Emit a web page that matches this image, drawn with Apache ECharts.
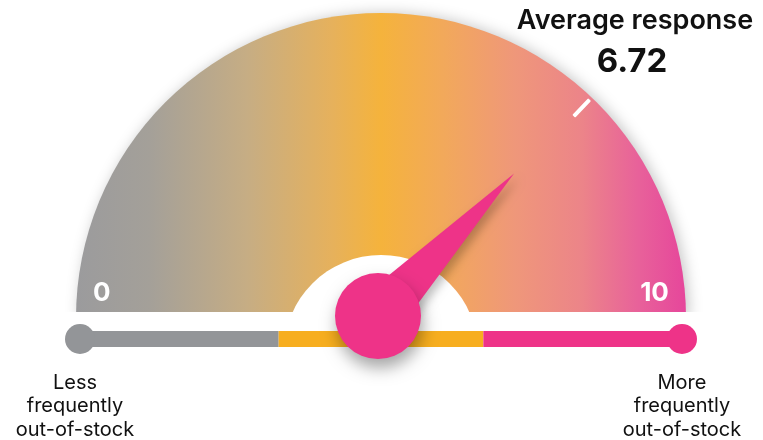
<!DOCTYPE html>
<html>
<head>
<meta charset="utf-8">
<script src="https://cdn.jsdelivr.net/npm/echarts@6/dist/echarts.min.js"></script>
<style>
  html, body { margin: 0; padding: 0; background: #fff; }
  #chart { width: 763px; height: 440px; }
</style>
</head>
<body>
<div id="chart"></div>
<script>
// Survey result shown on the dial
const seriesName = 'Average response';
const avgResponse = 6.72;

// Scale of the dial and the bar underneath
const scaleMin = 0;
const scaleMax = 10;
const scaleEnds = [0, 10];
const endLabels = ['Less\nfrequently\nout-of-stock', 'More\nfrequently\nout-of-stock'];

// Three bands of the bar, widths in scale units
const bandNames = ['low', 'middle', 'high'];
const bandWidths = [3.3, 3.4, 3.3];

// ---- styling ----
const PINK = '#ee3388';
const ORANGE = '#f7ae1f';
const GREY = '#939598';
const bandColors = [GREY, ORANGE, PINK];
const FONT = 'Inter, Roboto, sans-serif';

const DIAL_C = [381, 318];
const DIAL_R = 305;
const NEEDLE_C = [378, 316];
// sweep of the needle scale
const SWEEP_START = 217;
const SWEEP_END = -37;

const arcFill = new echarts.graphic.LinearGradient(DIAL_C[0] - DIAL_R, 0, DIAL_C[0] + DIAL_R, 0, [
  { offset: 0.00, color: '#9b9b9d' },
  { offset: 0.12, color: '#a4a099' },
  { offset: 0.28, color: '#c6ad84' },
  { offset: 0.42, color: '#e6b15c' },
  { offset: 0.50, color: '#f5b33c' },
  { offset: 0.60, color: '#f2a95a' },
  { offset: 0.72, color: '#ef977a' },
  { offset: 0.83, color: '#ec8489' },
  { offset: 0.92, color: '#e8629a' },
  { offset: 1.00, color: '#e6469b' }
], true);

const hidden = {
  axisLine: { show: false },
  axisTick: { show: false },
  splitLine: { show: false, length: 0 },
  axisLabel: { show: false },
  pointer: { show: false },
  anchor: { show: false },
  title: { show: false },
  detail: { show: false }
};

const chart = echarts.init(document.getElementById('chart'), null, { renderer: 'canvas' });

chart.setOption({
  animation: false,
  graphic: {
    elements: [
      // white strip between dial and bar
      { type: 'rect', z: 3, silent: true, shape: { x: 0, y: 312, width: 763, height: 20 }, style: { fill: '#fff' } },
      // white hub well
      { type: 'circle', z: 3, silent: true, shape: { cx: 381, cy: 352, r: 97 }, style: { fill: '#fff' } }
    ]
  },
  grid: { left: 80, right: 81, top: 324, height: 30 },
  xAxis: { type: 'value', min: scaleMin, max: scaleMax, show: false },
  yAxis: { type: 'category', data: ['scale'], show: false },
  series: [
    // coloured dial face
    Object.assign({}, hidden, {
      type: 'gauge',
      z: 1,
      center: DIAL_C,
      radius: DIAL_R,
      startAngle: 180,
      endAngle: 0,
      min: scaleMin,
      max: scaleMax,
      silent: true,
      axisLine: {
        show: true,
        lineStyle: {
          width: DIAL_R,
          color: [[1, arcFill]],
          shadowBlur: 14,
          shadowColor: 'rgba(0,0,0,0.22)',
          shadowOffsetX: 3
        }
      },
      data: []
    }),
    // end labels of the dial
    Object.assign({}, hidden, {
      type: 'gauge',
      z: 6,
      center: DIAL_C,
      radius: 299,
      startAngle: 175,
      endAngle: 5,
      min: scaleEnds[0],
      max: scaleEnds[1],
      splitNumber: 1,
      silent: true,
      axisLabel: {
        show: true,
        distance: 0,
        color: '#fff',
        fontSize: 26,
        fontWeight: 'bold',
        fontFamily: FONT,
        align: 'center',
        verticalAlign: 'middle'
      },
      data: []
    }),
    // bar bands
    ...bandNames.map((name, i) => ({
      type: 'bar',
      name: name,
      stack: 'scale',
      z: 4,
      barWidth: 16,
      silent: true,
      itemStyle: { color: bandColors[i] },
      data: [bandWidths[i]]
    })),
    // rounded end caps with captions
    {
      type: 'scatter',
      z: 5,
      silent: true,
      symbolSize: 30,
      data: scaleEnds.map((v, i) => ({
        value: [v, 'scale'],
        itemStyle: { color: i === 0 ? GREY : PINK, opacity: 1 },
        label: {
          show: true,
          position: 'bottom',
          distance: 17,
          offset: i === 0 ? [-5, 0] : [0, 0],
          formatter: endLabels[i],
          color: '#111',
          fontSize: 20,
          lineHeight: 23.5,
          fontFamily: FONT,
          align: 'center'
        }
      }))
    },
    // value marker on the rim
    Object.assign({}, hidden, {
      type: 'gauge',
      z: 6,
      center: DIAL_C,
      radius: DIAL_R,
      startAngle: SWEEP_START,
      endAngle: SWEEP_END,
      min: scaleMin,
      max: scaleMax,
      silent: true,
      pointer: {
        show: true,
        icon: 'roundRect',
        length: 23,
        width: 4,
        offsetCenter: [0, -279],
        itemStyle: { color: '#fff' }
      },
      data: [{ value: avgResponse }]
    }),
    // needle, hub and readout
    Object.assign({}, hidden, {
      type: 'gauge',
      z: 10,
      center: NEEDLE_C,
      radius: 200,
      startAngle: SWEEP_START,
      endAngle: SWEEP_END,
      min: scaleMin,
      max: scaleMax,
      silent: true,
      pointer: {
        show: true,
        icon: 'path://M50,0 L100,1000 L0,1000 Z',
        length: 197,
        width: 50,
        itemStyle: {
          color: PINK,
          shadowBlur: 10,
          shadowColor: 'rgba(0,0,0,0.25)',
          shadowOffsetX: 4,
          shadowOffsetY: 5
        }
      },
      anchor: {
        show: true,
        showAbove: true,
        size: 86,
        itemStyle: {
          color: PINK,
          shadowBlur: 16,
          shadowColor: 'rgba(0,0,0,0.35)',
          shadowOffsetX: 2,
          shadowOffsetY: 9
        }
      },
      title: {
        show: true,
        offsetCenter: [257, -295],
        color: '#111',
        fontSize: 27,
        fontWeight: 600,
        fontFamily: FONT
      },
      detail: {
        show: true,
        offsetCenter: [254, -254],
        valueAnimation: false,
        formatter: v => v.toFixed(2),
        color: '#111',
        fontSize: 33,
        fontWeight: 'bold',
        fontFamily: FONT
      },
      data: [{ value: avgResponse, name: seriesName }]
    })
  ]
});
</script>
</body>
</html>
